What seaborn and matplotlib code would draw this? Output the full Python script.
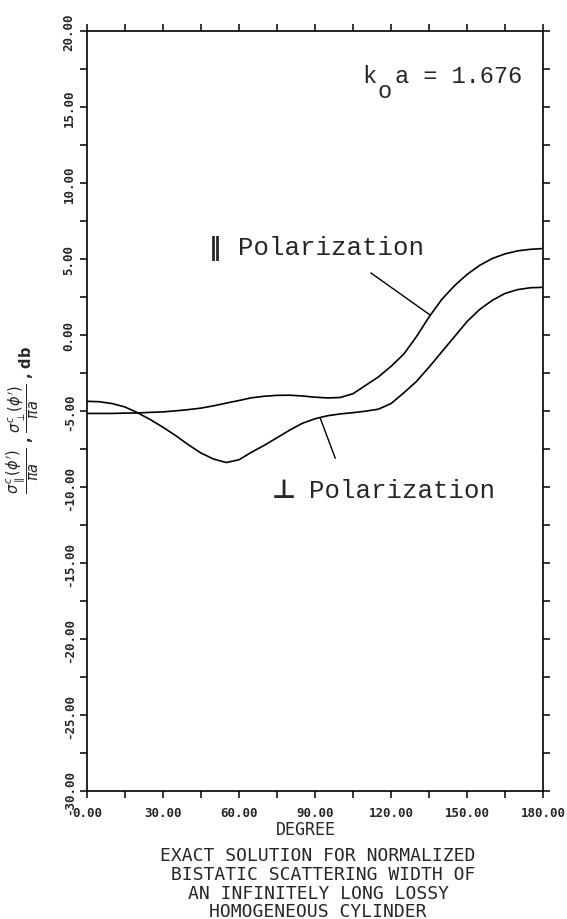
import numpy as np
import pandas as pd
import matplotlib
matplotlib.use('Agg')
import matplotlib.pyplot as plt
import seaborn as sns

# scattering angle (degrees) and normalized bistatic width (dB)
angle = [0, 5, 10, 15, 20, 25, 30, 35, 40, 45, 50, 55, 60, 65, 70, 75, 80, 85, 90,
         95, 100, 105, 110, 115, 120, 125, 130, 135, 140, 145, 150, 155, 160, 165,
         170, 175, 180]
par_db = [-5.15, -5.15, -5.15, -5.13, -5.12, -5.08, -5.05, -4.98, -4.90, -4.80,
          -4.65, -4.47, -4.30, -4.12, -4.02, -3.96, -3.95, -4.00, -4.08, -4.13,
          -4.10, -3.85, -3.30, -2.75, -2.05, -1.25, -0.10, 1.20, 2.35, 3.25,
          4.00, 4.60, 5.05, 5.35, 5.55, 5.65, 5.70]
perp_db = [-4.35, -4.38, -4.50, -4.72, -5.10, -5.55, -6.05, -6.60, -7.20, -7.75,
           -8.15, -8.38, -8.20, -7.70, -7.25, -6.75, -6.25, -5.80, -5.50, -5.30,
           -5.18, -5.10, -5.00, -4.87, -4.50, -3.80, -3.05, -2.10, -1.10, -0.10,
           0.90, 1.70, 2.30, 2.75, 3.00, 3.12, 3.15]

x_ticks = [0, 30, 60, 90, 120, 150, 180]
x_labels = ['0.00', '30.00', '60.00', '90.00', '120.00', '150.00', '180.00']
y_ticks = [-30, -25, -20, -15, -10, -5, 0, 5, 10, 15, 20]
y_labels = ['-30.00', '-25.00', '-20.00', '-15.00', '-10.00', '-5.00', '0.00',
            '5.00', '10.00', '15.00', '20.00']

title_lines = ['EXACT SOLUTION FOR NORMALIZED',
               ' BISTATIC SCATTERING WIDTH OF',
               'AN INFINITELY LONG LOSSY',
               'HOMOGENEOUS CYLINDER']

df = pd.DataFrame({
    'angle': angle * 2,
    'db': par_db + perp_db,
    'pol': ['par'] * len(angle) + ['perp'] * len(angle),
})

sns.set_style('ticks')
plt.rcParams['font.family'] = ['DejaVu Sans']
plt.rcParams['mathtext.fontset'] = 'dejavusans'

fig = plt.figure(figsize=(5.67, 9.2), dpi=100)
ax = fig.add_axes([0.153, 0.139, 0.805, 0.826])

sns.lineplot(data=df, x='angle', y='db', hue='pol', palette=['black', 'black'],
             linewidth=1.2, legend=False, ax=ax)

ax.set_xlim(0, 180)
ax.set_ylim(-30, 20)
ax.set_xticks(x_ticks)
ax.set_xticklabels(x_labels, family='DejaVu Sans Mono', fontsize=9, fontweight='bold')
ax.set_xticks(np.arange(15, 180, 30), minor=True)
ax.set_yticks(y_ticks)
ax.set_yticklabels(y_labels, family='DejaVu Sans Mono', fontsize=9, fontweight='bold',
                   rotation=90, va='center')
ax.set_yticks(np.arange(-27.5, 20, 5), minor=True)
ax.tick_params(which='both', direction='out', length=5, width=1.1, top=True, right=True,
               color='black')
ax.tick_params(axis='x', which='major', pad=6)
ax.tick_params(axis='y', which='major', pad=3)
for s in ax.spines.values():
    s.set_linewidth(1.2)
    s.set_color('black')

ax.set_xlabel('DEGREE', family='DejaVu Sans Mono', fontsize=12)
ax.xaxis.set_label_coords(0.48, -0.038)
ax.set_ylabel(r'$\dfrac{\sigma^{c}_{\parallel}(\phi^{\prime})}{\pi a}$ , '
              r'$\dfrac{\sigma^{c}_{\perp}(\phi^{\prime})}{\pi a}$ , db', fontsize=10.5,
              fontweight='bold')
ax.yaxis.set_label_coords(-0.1, 0.49)

# k_o a label
mono = ['Liberation Mono', 'DejaVu Sans Mono']
ax.text(0.603, 0.933, 'k', transform=ax.transAxes, family=mono, fontsize=17, va='baseline')
ax.text(0.636, 0.914, 'o', transform=ax.transAxes, family=mono, fontsize=17, va='baseline')
ax.text(0.675, 0.933, 'a = 1.676', transform=ax.transAxes, family=mono, fontsize=17,
        va='baseline')

# polarization labels with leader lines
ax.text(0.268, 0.707, '\u2016', transform=ax.transAxes, family=['DejaVu Sans'],
        fontsize=18, fontweight='bold', va='baseline')
ax.text(0.331, 0.707, 'Polarization', transform=ax.transAxes, family=mono, fontsize=18.5,
        va='baseline')
ax.text(0.405, 0.387, '\u22a5', transform=ax.transAxes, family=['DejaVu Sans'],
        fontsize=19, fontweight='bold', va='baseline')
ax.text(0.487, 0.387, 'Polarization', transform=ax.transAxes, family=mono, fontsize=18.5,
        va='baseline')

ax.annotate('', xy=(135.5, np.interp(135.5, angle, par_db)), xytext=(112, 4.1),
            arrowprops=dict(arrowstyle='-', color='black', lw=1.0, shrinkA=0, shrinkB=0))
ax.annotate('', xy=(92, np.interp(92, angle, perp_db)), xytext=(98, -8.1),
            arrowprops=dict(arrowstyle='-', color='black', lw=1.0, shrinkA=0, shrinkB=0))

fig.text(0.561, 0.079, '\n'.join(title_lines), ha='center', va='top', family='DejaVu Sans Mono',
         fontsize=13, linespacing=1.05, multialignment='center')

fig.savefig('out.png', dpi=100, facecolor='white')
